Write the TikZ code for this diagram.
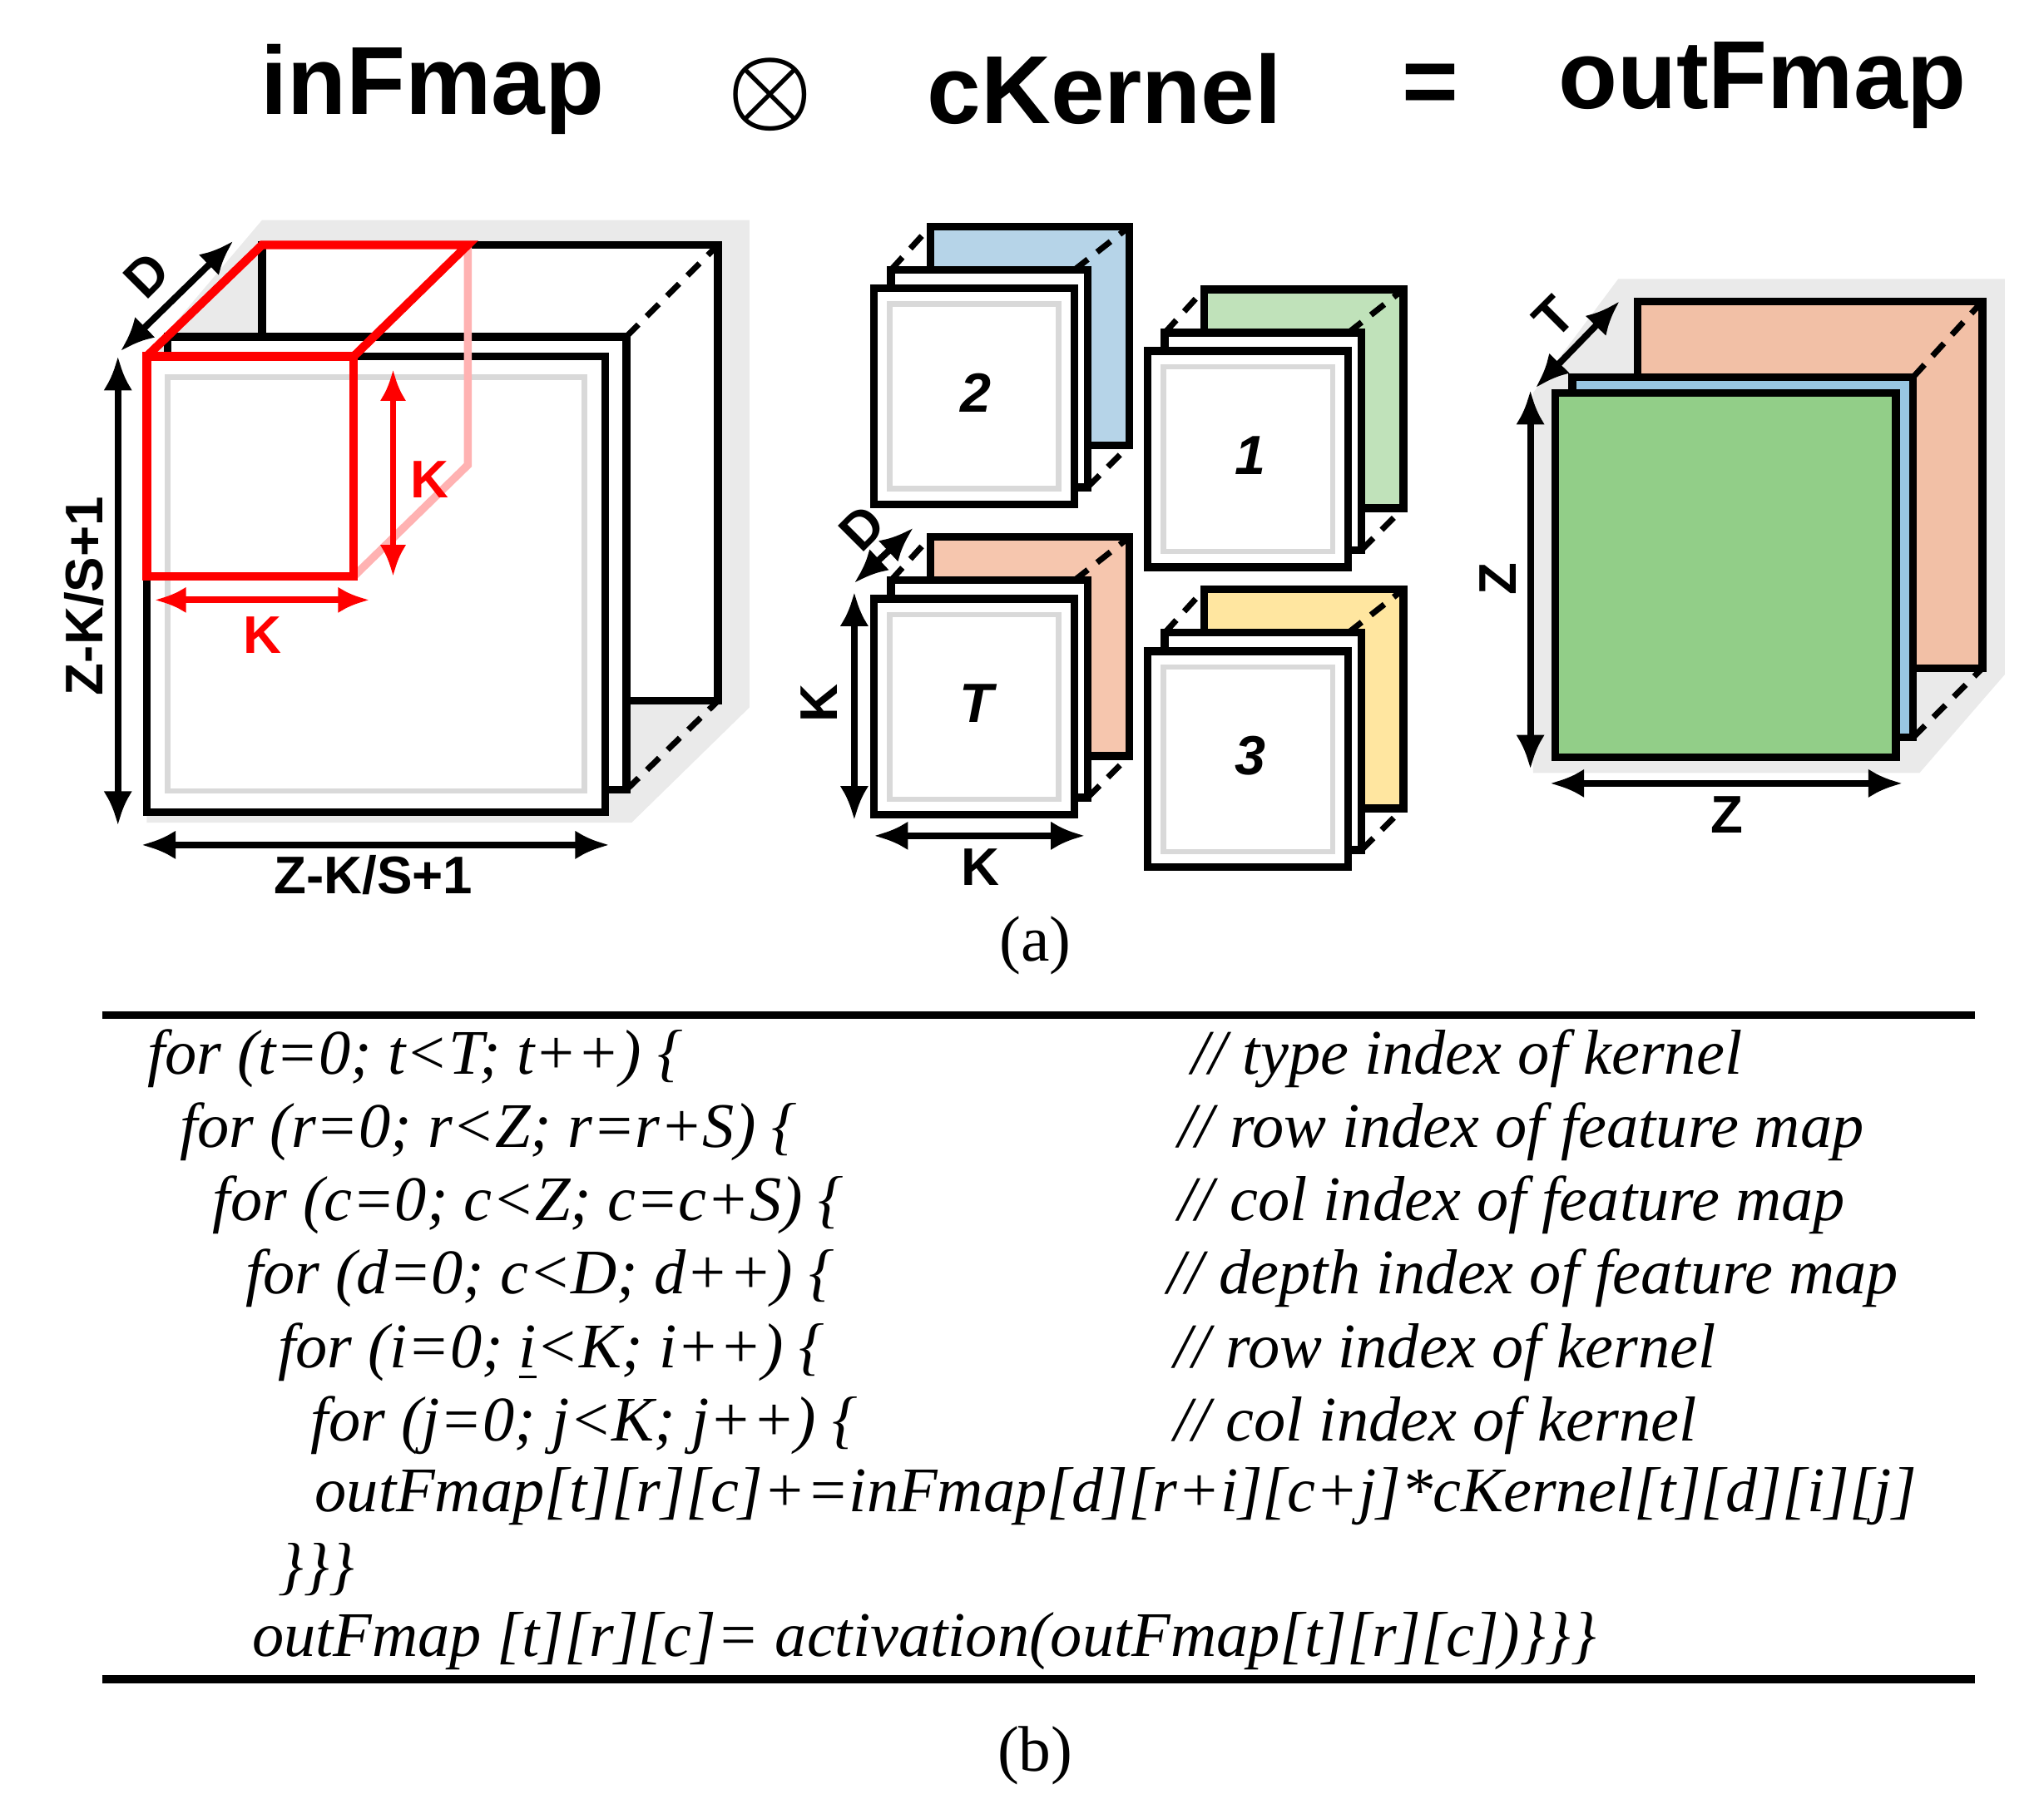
\documentclass[tikz,border=0pt]{standalone}
\usepackage{fontspec}
\usepackage{amsmath}
\setmainfont{Liberation Serif}
\newfontfamily\sansf{Liberation Sans}
\usetikzlibrary{arrows.meta}
\definecolor{kblue}{RGB}{182,212,232}
\definecolor{kgreen}{RGB}{192,226,186}
\definecolor{korange}{RGB}{246,198,174}
\definecolor{kyellow}{RGB}{255,230,160}
\definecolor{ogreen}{RGB}{146,206,136}
\definecolor{oblue}{RGB}{152,198,226}
\definecolor{oorange}{RGB}{242,192,166}
\definecolor{shadeg}{RGB}{234,234,234}
\begin{document}
\begin{tikzpicture}[x=0.1mm,y=-0.1mm,
  frame/.style={draw=black,line width=0.6mm,fill=white},
  dsh/.style={black,line width=0.45mm,dash pattern=on 1.3mm off 0.9mm},
  dim/.style={line width=0.5mm,{Latex[length=2.6mm,width=2.2mm]}-{Latex[length=2.6mm,width=2.2mm]}},
  rdim/.style={red,line width=0.5mm,{Latex[length=2.4mm,width=2mm]}-{Latex[length=2.4mm,width=2mm]}},
  lab/.style={font=\sansf\bfseries\fontsize{11.5}{13}\selectfont},
  num/.style={font=\sansf\bfseries\itshape\fontsize{12}{14}\selectfont},
  title/.style={font=\sansf\bfseries\fontsize{21}{25}\selectfont},
  code/.style={anchor=west,font=\itshape\fontsize{13.8}{16}\selectfont},
  captxt/.style={font=\fontsize{14}{17}\selectfont}]
\useasboundingbox (0,0) rectangle (1560,1369);
% titles
\node[title] (t1) at (330,68) {inFmap};
\node[font=\fontsize{20}{24}\selectfont] (t2) at (588,72) {$\boldsymbol{\otimes}$};
\node[title] (t3) at (843,68) {cKernel};
\node[title] (t4) at (1092,68) {=};
\node[title] (t5) at (1345,65) {outFmap};
% ---- inFmap
\fill[shadeg] (200,168) -- (572,168) -- (572,540) -- (482,628) -- (112,628) -- (112,272) -- cycle;
\draw[frame] (200,187) rectangle (548,535);
\draw[dsh] (478,257) -- (548,187);
\draw[dsh] (478,603) -- (548,535);
\draw[frame] (128,257) rectangle (478,603);
\draw[frame] (112,272) rectangle (462,620);
\draw[gray!30,line width=0.4mm] (128,288) rectangle (446,604);
\draw[red!30,line width=0.6mm] (357,187) -- (357,355) -- (270,440);
\draw[red,line width=0.65mm] (112,272) rectangle (270,440);
\draw[red,line width=0.65mm] (112,272) -- (200,187) -- (357,187) -- (270,272);
\draw[dim] (92,268) -- (178,184);
\node[lab,rotate=45] (ld) at (112,210) {D};
\draw[dim] (90,272) -- (90,630);
\node[lab,rotate=90] (lz1) at (64,455) {Z-K/S+1};
\draw[dim] (108,645) -- (465,645);
\node[lab] (lz2) at (285,668) {Z-K/S+1};
\draw[rdim] (300,282) -- (300,440);
\node[lab,red] (lk1) at (328,366) {K};
\draw[rdim] (118,458) -- (282,458);
\node[lab,red] (lk2) at (200,485) {K};
% ---- cKernel stacks
\foreach \x/\y/\c/\t/\n in {667/220/kblue/2/s2, 876/268/kgreen/1/s1, 667/457/korange/T/sT, 876/497/kyellow/3/s3}{
  \draw[frame,fill=\c] (\x+43,\y-47) rectangle (\x+195,\y+120);
  \draw[dsh] (\x+153,\y-14) -- (\x+195,\y-47);
  \draw[dsh] (\x+163,\y+152) -- (\x+195,\y+120);
  \draw[dsh] (\x+13,\y-14) -- (\x+43,\y-47);
  \draw[frame] (\x+13,\y-14) rectangle (\x+163,\y+152);
  \draw[frame] (\x,\y) rectangle (\x+153,\y+165);
  \draw[gray!30,line width=0.4mm] (\x+12,\y+12) rectangle (\x+141,\y+153);
  \node[num] (\n) at (\x+78,\y+80) {\t};
}
\draw[dim] (652,445) -- (697,403);
\node[lab,rotate=45] (kd) at (658,403) {D};
\draw[dim] (652,452) -- (652,626);
\node[lab,rotate=90] (kk1) at (625,537) {K};
\draw[dim] (667,638) -- (828,638);
\node[lab] (kk2) at (748,662) {K};
% ---- outFmap
\fill[shadeg] (1235,213) -- (1530,213) -- (1530,515) -- (1465,590) -- (1170,590) -- (1170,300) -- cycle;
\draw[frame,fill=oorange] (1250,230) rectangle (1513,510);
\draw[dsh] (1460,288) -- (1513,230);
\draw[dsh] (1460,563) -- (1513,510);
\draw[frame,fill=oblue] (1200,288) rectangle (1460,563);
\draw[frame,fill=ogreen] (1187,300) rectangle (1447,578);
\draw[dim] (1172,296) -- (1236,230);
\node[lab,rotate=45] (ot) at (1186,242) {T};
\draw[dim] (1168,298) -- (1168,587);
\node[lab,rotate=90] (oz1) at (1143,442) {Z};
\draw[dim] (1183,598) -- (1452,598);
\node[lab] (oz2) at (1318,622) {Z};
\node[captxt] (ca) at (790,722) {(a)};
% ---- code
\draw[line width=0.6mm] (78,775) -- (1507,775);
\draw[line width=0.6mm] (78,1282) -- (1507,1282);
\node[code] (c1) at (100,808) {for (t=0; t<T; t++) \{};
\node[code] (c2) at (125,864) {for (r=0; r<Z; r=r+S) \{};
\node[code] (c3) at (150,920) {for (c=0; c<Z; c=c+S) \{};
\node[code] (c4) at (175,976) {for (d=0; c<D; d++) \{};
\node[code] (c5) at (200,1032) {for (i=0; \underline{i}<K; i++) \{};
\node[code] (c6) at (225,1088) {for (j=0; j<K; j++) \{};
\node[code] (c7) at (228,1142) {outFmap[t][r][c]+=inFmap[d][r+i][c+j]*cKernel[t][d][i][j]};
\node[code] (c8) at (200,1198) {\}\}\}};
\node[code] (c9) at (180,1253) {outFmap [t][r][c]= activation(outFmap[t][r][c])\}\}\}};
\node[code] (m1) at (897,808) {// type index of kernel};
\node[code] (m2) at (887,864) {// row index of feature map};
\node[code] (m3) at (887,920) {// col index of feature map};
\node[code] (m4) at (879,976) {// depth index of feature map};
\node[code] (m5) at (884,1032) {// row index of kernel};
\node[code] (m6) at (884,1088) {// col index of kernel};
\node[captxt] (cb) at (790,1340) {(b)};
\end{tikzpicture}
\end{document}
